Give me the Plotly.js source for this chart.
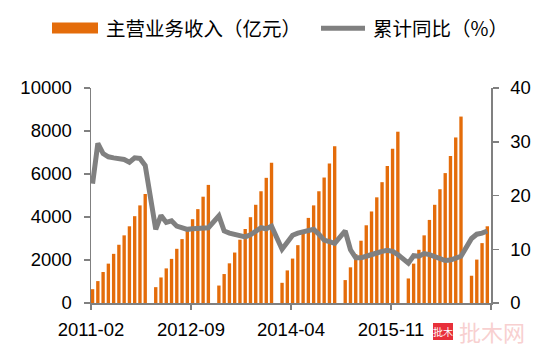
<!DOCTYPE html>
<html>
<head>
<meta charset="utf-8">
<script src="https://cdn.plot.ly/plotly-3.0.1.min.js"></script>
<style>html,body{margin:0;padding:0;background:#fff;}#chart{width:546px;height:355px;}</style>
</head>
<body>
<div id="chart"></div>
<script>
// Months 2011-02 .. 2017-05 (January has no separate value)
const years = [2011, 2012, 2013, 2014, 2015, 2016, 2017];
const months = [];
years.forEach(function (y) {
  for (let m = 1; m <= 12; m++) {
    if (y === 2011 && m === 1) continue;
    if (y === 2017 && m > 5) break;
    months.push(y + '-' + (m < 10 ? '0' + m : '' + m));
  }
});

// 主营业务收入（亿元）, cumulative
const revenue = [
  643, 1019, 1441, 1831, 2286, 2709, 3146, 3568, 4038, 4540, 5070,
  null, 737, 1188, 1610, 2052, 2521, 2972, 3427, 3897, 4366, 4944, 5493,
  null, 812, 1347, 1845, 2347, 2944, 3441, 3991, 4568, 5197, 5822, 6526,
  null, 939, 1516, 2066, 2690, 3225, 3958, 4540, 5197, 5836, 6493, 7291,
  null, 1066, 1659, 2270, 2897, 3615, 4257, 4915, 5620, 6371, 7169, 7967,
  null, 1141, 1831, 2474, 3146, 3864, 4568, 5291, 6042, 6840, 7700, 8671,
  null, 1268, 2019, 2785, 3568
];

// 累计同比（%）
const yoy = [
  22.2, 29.7, 27.8, 27.2, 27.0, 26.9, 26.7, 26.2, 27.0, 26.9, 25.6,
  null, 13.7, 16.3, 15.0, 15.3, 14.3, 14.0, 13.7, 13.8, 13.9, 13.9, 14.0,
  null, 16.2, 13.4, 13.0, 12.8, 12.5, 12.3, 12.7, 13.4, 14.0, 13.8, 14.3,
  null, 10.0, 11.2, 12.6, 13.0, 13.2, 13.4, 13.7, 12.8, 11.7, 11.4, 11.1,
  null, 13.4, 9.9, 8.4, 8.4, 8.7, 8.9, 9.3, 9.6, 9.8, 9.6, 9.0,
  null, 7.4, 8.8, 8.7, 9.2, 9.0, 8.6, 8.2, 7.9, 8.0, 8.4, 8.7,
  null, 12.0, 12.8, 13.0, 13.4
];

const seriesNames = ['主营业务收入（亿元）', '累计同比（%）'];
const tickIdx = [0, 19, 38, 57, 76];
const tickText = tickIdx.map(function (i) { return months[i] || ''; });

const ORANGE = '#E46C0A';
const GRAY = '#808080';
const numFont = {family: 'Liberation Sans, Arial, sans-serif', size: 18.5, color: '#000'};
const cjk = 'Noto Sans CJK SC, sans-serif';

const traces = [
  {type: 'bar', x: months, y: revenue, name: seriesNames[0], marker: {color: ORANGE}, yaxis: 'y', hoverinfo: 'skip'},
  {type: 'scatter', mode: 'lines', x: months, y: yoy, name: seriesNames[1], connectgaps: true,
   line: {color: GRAY, width: 5}, yaxis: 'y2', hoverinfo: 'skip'}
];

const axisCommon = {showgrid: false, zeroline: false, showline: true, linecolor: GRAY, linewidth: 1.5,
  ticks: 'outside', tickcolor: GRAY, tickwidth: 1.5, ticklen: 6, tickfont: numFont};

const layout = {
  width: 546, height: 355,
  margin: {l: 91, r: 55, t: 88, b: 52, pad: 0},
  paper_bgcolor: '#fff', plot_bgcolor: '#fff',
  showlegend: false,
  bargap: 0.36,
  xaxis: Object.assign({}, axisCommon, {
    type: 'category', range: [-0.3, 75.7], ticklen: 5,
    tickmode: 'array', tickvals: tickIdx.map(function (i) { return i - 0.3; }), ticktext: tickText,
    ticklabelstandoff: 4
  }),
  yaxis: Object.assign({}, axisCommon, {range: [0, 10000], dtick: 2000, tickformat: 'd', ticklabelstandoff: 8}),
  yaxis2: Object.assign({}, axisCommon, {range: [0, 40], dtick: 10, tickformat: 'd', overlaying: 'y', side: 'right', ticklabelstandoff: 8}),
  shapes: [
    {type: 'rect', xref: 'paper', yref: 'paper', x0: (52 - 91) / 400, x1: (98 - 91) / 400,
     y0: (355 - 52 - 33.5) / 215 , y1: (355 - 52 - 22.5) / 215, fillcolor: ORANGE, line: {width: 0}},
    {type: 'line', xref: 'paper', yref: 'paper', x0: (321 - 91) / 400, x1: (365 - 91) / 400,
     y0: (355 - 52 - 28.3) / 215, y1: (355 - 52 - 28.3) / 215, line: {color: GRAY, width: 5}},
    {type: 'rect', xref: 'paper', yref: 'paper', x0: (433 - 91) / 400, x1: (453 - 91) / 400,
     y0: (355 - 52 - 340) / 215, y1: (355 - 52 - 323) / 215, fillcolor: '#E8303A', line: {width: 0}}
  ],
  annotations: [
    {xref: 'paper', yref: 'paper', x: (104 - 91) / 400, y: (355 - 52 - 28) / 215, xanchor: 'left', yanchor: 'middle',
     text: seriesNames[0], showarrow: false, font: {family: cjk, size: 19.5, color: '#000'}},
    {xref: 'paper', yref: 'paper', x: (371 - 91) / 400, y: (355 - 52 - 28) / 215, xanchor: 'left', yanchor: 'middle',
     text: seriesNames[1], showarrow: false, font: {family: cjk, size: 19.5, color: '#000'}},
    {xref: 'paper', yref: 'paper', x: (443 - 91) / 400, y: (355 - 52 - 331) / 215, xanchor: 'center', yanchor: 'middle',
     text: '批木', showarrow: false, font: {family: cjk, size: 10, color: '#fff'}},
    {xref: 'paper', yref: 'paper', x: (492 - 91) / 400, y: (355 - 52 - 331) / 215, xanchor: 'center', yanchor: 'middle',
     text: '批木网', showarrow: false, font: {family: cjk, size: 22, color: '#F8D0D0'}}
  ]
};

Plotly.newPlot('chart', traces, layout, {displayModeBar: false, staticPlot: true});
</script>
</body>
</html>
